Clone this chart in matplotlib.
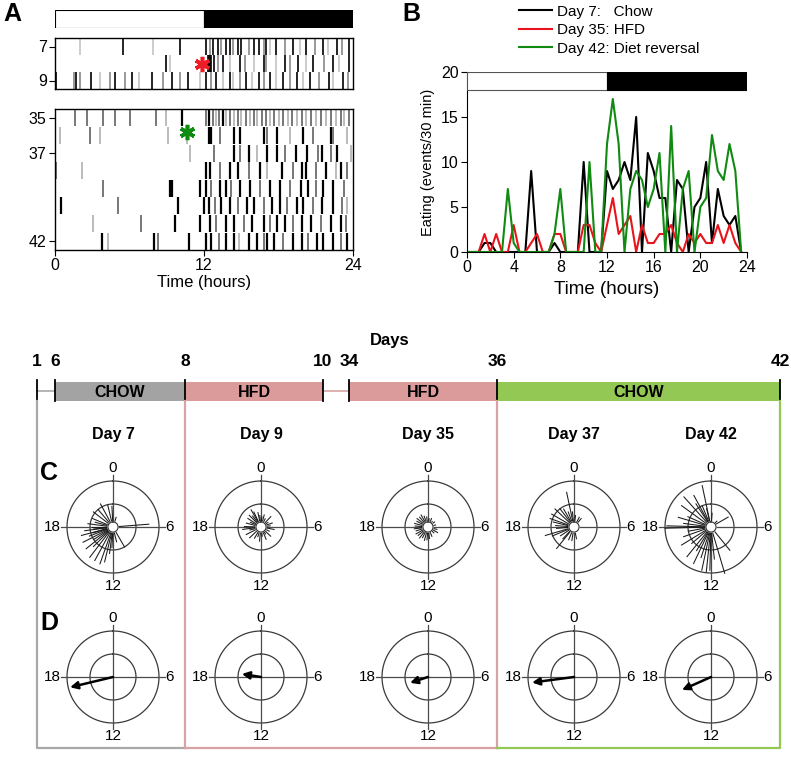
import numpy as np
import matplotlib
matplotlib.use("Agg")
import matplotlib.pyplot as plt

plt.rcParams['font.family'] = ['Liberation Sans', 'DejaVu Sans']
NARROW = ['Liberation Sans Narrow', 'Liberation Sans', 'DejaVu Sans']

# ---------------- data ----------------
# Panel A raster: (hour, shade) per day ; shade k=black g=grey l=light
day7 = [(2.0,'l'),(5.5,'k'),(7.9,'l'),(10.1,'k'),(12.2,'k'),(12.5,'g'),(12.7,'k'),(13.1,'k'),(13.4,'g'),(13.8,'k'),(14.1,'k'),(14.3,'g'),(14.7,'k'),(15.0,'k'),(15.6,'g'),(16.0,'k'),(16.4,'k'),(16.8,'g'),(17.0,'k'),(17.3,'l'),(17.8,'k'),(18.5,'g'),(19.2,'k'),(19.7,'l'),(20.2,'k'),(20.9,'g'),(21.6,'k'),(22.0,'l'),(22.7,'k'),(23.1,'g'),(23.7,'k')]
day8 = [(8.9,'k'),(9.3,'l'),(12.3,'k'),(12.4,'k'),(12.5,'k'),(12.6,'k'),(12.8,'k'),(13.1,'g'),(13.5,'k'),(14.1,'l'),(14.9,'k'),(15.3,'g'),(16.0,'l'),(16.8,'k'),(17.0,'g'),(17.8,'l'),(18.5,'k'),(18.9,'g'),(19.6,'k'),(20.2,'l'),(20.8,'k'),(21.7,'g'),(22.4,'k'),(22.9,'l'),(23.7,'k')]
day9 = [(0.1,'k'),(1.5,'g'),(1.7,'k'),(2.0,'g'),(2.9,'k'),(3.6,'l'),(4.4,'g'),(4.8,'k'),(5.6,'g'),(6.2,'k'),(6.8,'l'),(7.8,'k'),(8.7,'g'),(9.4,'k'),(10.1,'g'),(10.7,'k'),(11.7,'l'),(12.2,'k'),(12.6,'g'),(13.0,'k'),(13.5,'l'),(14.1,'k'),(14.3,'l'),(14.9,'g'),(15.4,'k'),(15.9,'l'),(16.4,'k'),(16.8,'g'),(17.3,'k'),(17.8,'l'),(18.4,'k'),(18.9,'g'),(19.5,'k'),(20.0,'l'),(20.5,'k'),(21.3,'g'),(22.1,'k'),(22.4,'l'),(23.2,'k'),(23.6,'g')]
day35 = [(1.6,'g'),(2.6,'g'),(3.9,'g'),(4.8,'g'),(6.0,'g'),(8.1,'g'),(8.9,'l'),(10.2,'k'),(12.2,'g'),(12.4,'k'),(12.7,'g'),(13.0,'l'),(13.2,'g'),(13.5,'k'),(13.8,'l'),(14.1,'g'),(14.4,'l'),(14.7,'g'),(15.0,'l'),(15.4,'g'),(15.7,'l'),(16.0,'g'),(16.3,'l'),(16.7,'g'),(17.0,'g'),(17.3,'l'),(17.6,'g'),(18.0,'l'),(18.4,'g'),(18.8,'l'),(19.1,'g'),(19.5,'l'),(19.9,'g'),(20.2,'l'),(20.6,'g'),(21.0,'l'),(21.4,'g'),(21.8,'l'),(22.2,'g'),(22.6,'l'),(23.0,'g'),(23.3,'l'),(23.7,'g')]
day36 = [(0.4,'l'),(2.8,'g'),(3.6,'l'),(9.1,'l'),(10.6,'l'),(12.4,'k'),(12.6,'k'),(13.3,'g'),(14.4,'k'),(14.9,'k'),(16.8,'k'),(17.1,'g'),(17.9,'k'),(18.9,'l'),(20.0,'k'),(20.8,'g'),(22.2,'k'),(22.4,'g'),(23.5,'l')]
day37 = [(10.9,'l'),(12.8,'g'),(14.4,'k'),(14.9,'g'),(15.6,'k'),(16.3,'l'),(17.1,'k'),(17.9,'k'),(18.5,'g'),(19.4,'k'),(20.3,'k'),(21.2,'g'),(21.5,'k'),(22.2,'g'),(22.7,'k'),(23.8,'l')]
day38 = [(0.1,'g'),(2.2,'l'),(12.2,'k'),(12.5,'k'),(13.3,'g'),(14.1,'k'),(14.7,'k'),(15.6,'g'),(16.5,'k'),(17.1,'l'),(18.3,'k'),(19.2,'g'),(19.9,'k'),(20.2,'k'),(21.0,'g'),(21.8,'k'),(22.6,'l'),(23.0,'k'),(23.5,'g')]
day39 = [(3.9,'g'),(9.3,'k'),(9.4,'k'),(11.7,'k'),(12.2,'k'),(12.6,'g'),(13.3,'k'),(13.8,'k'),(14.2,'g'),(14.9,'k'),(15.7,'k'),(16.5,'g'),(17.3,'k'),(18.1,'k'),(18.9,'g'),(19.8,'k'),(20.4,'k'),(21.0,'g'),(21.6,'k'),(22.4,'k'),(23.3,'g')]
day40 = [(0.5,'k'),(5.1,'g'),(9.9,'k'),(12.0,'k'),(12.4,'k'),(12.9,'g'),(13.4,'k'),(14.1,'k'),(14.7,'g'),(15.5,'k'),(16.0,'k'),(16.8,'g'),(17.5,'k'),(18.1,'k'),(18.7,'g'),(19.5,'k'),(20.0,'k'),(20.8,'g'),(21.5,'k'),(22.4,'k'),(23.1,'g'),(23.5,'l')]
day41 = [(3.1,'l'),(6.9,'g'),(9.7,'k'),(11.7,'k'),(12.5,'k'),(13.0,'g'),(13.8,'k'),(14.4,'k'),(15.2,'g'),(15.9,'k'),(16.8,'k'),(17.3,'g'),(17.9,'k'),(18.5,'k'),(19.2,'g'),(19.9,'k'),(20.6,'k'),(21.4,'g'),(22.2,'k'),(23.0,'k'),(23.4,'g')]
day42 = [(3.8,'k'),(4.3,'l'),(8.0,'k'),(8.3,'g'),(10.8,'k'),(12.2,'k'),(12.6,'k'),(13.2,'g'),(13.8,'k'),(14.4,'k'),(14.8,'l'),(15.6,'k'),(16.3,'k'),(16.8,'g'),(17.1,'k'),(17.6,'k'),(18.4,'g'),(19.2,'k'),(19.9,'k'),(20.4,'g'),(21.1,'k'),(21.6,'k'),(22.4,'k'),(23.0,'g'),(23.5,'k')]
raster_top = {7: day7, 8: day8, 9: day9}
raster_bottom = {35: day35, 36: day36, 37: day37, 38: day38, 39: day39, 40: day40, 41: day41, 42: day42}
light_start = [0, 12]
light_width = [12, 12]

# Panel B: eating events per 30-min bin
bins_b = np.arange(0, 24, 0.5)
eat_day7 = [0,0,0,1,1,0,0,0,0,0,0,9,0,0,0,1,0,0,0,0,10,0,0,0,9,7,8,10,8,15,0,11,9,6,6,0,8,7,0,5,6,10,1,7,4,3,4,0]
eat_day35 = [0,0,0,2,0,2,0,0,3,0,0,1,2,0,0,2,2,0,0,0,3,3,1,0,3,6,2,3,4,0,3,1,1,2,2,3,1,0,2,1,2,1,1,3,1,3,1,0]
eat_day42 = [0,0,0,0,0,0,0,7,1,0,0,0,0,0,0,2,7,0,0,0,0,10,0,0,12,17,12,0,7,9,8,5,7,11,0,14,0,7,9,0,5,6,13,9,8,12,9,0]
b_labels = ['Day 7:   Chow', 'Day 35: HFD', 'Day 42: Diet reversal']
b_colors = ['black', '#e8141c', '#118a11']

# Timeline
tl_days = ['1', '6', '8', '10', '34', '36', '42']
tl_segments = ['CHOW', 'HFD', 'HFD', 'CHOW']

# Panels C/D: rose lines (hour, length rel. to outer circle) and mean vectors
rose_titles = ['Day 7', 'Day 9', 'Day 35', 'Day 37', 'Day 42']
rose_day7 = [(5.7,0.78),(1.2,0.22),(20.5,0.54),(22.1,0.57),(23.1,0.49),(23.8,0.45),(21.3,0.50),(19.5,0.48),(18.5,0.55),(18.0,0.45),(17.6,0.42),(17.5,0.62),(17.0,0.71),(16.6,0.55),(16.2,0.73),(15.8,0.50),(15.4,0.75),(15.0,0.60),(14.5,0.83),(13.9,0.83),(13.3,0.85),(12.9,0.78),(12.5,0.58),(12.2,0.45),(11.1,0.33),(10.0,0.50),(19.0,0.40),(16.9,0.45)]
rose_day9 = [(22.0,0.43),(22.3,0.36),(23.2,0.32),(0.3,0.22),(1.0,0.27),(1.8,0.2),(2.9,0.31),(3.8,0.18),(4.7,0.26),(5.5,0.2),(6.7,0.29),(7.8,0.2),(8.9,0.29),(9.8,0.18),(10.5,0.29),(11.5,0.2),(12.4,0.31),(13.2,0.22),(14.0,0.28),(15.1,0.34),(16.2,0.36),(17.0,0.25),(17.5,0.40),(18.1,0.36),(19.0,0.33),(19.6,0.25),(20.2,0.34),(21.0,0.36),(21.5,0.30),(23.6,0.25)]
rose_day35 = [(23.5,0.22),(0.5,0.18),(1.5,0.2),(2.5,0.15),(3.5,0.18),(5.0,0.17),(7.0,0.2),(8.0,0.24),(9.0,0.18),(10.5,0.22),(11.5,0.25),(12.3,0.28),(13.0,0.3),(13.8,0.26),(14.5,0.3),(15.3,0.28),(16.0,0.3),(16.8,0.27),(17.5,0.3),(18.3,0.28),(19.0,0.3),(19.8,0.27),(20.5,0.3),(21.3,0.28),(22.0,0.3),(22.7,0.25)]
rose_day37 = [(23.2,0.77),(23.6,0.33),(0.5,0.25),(1.9,0.24),(2.7,0.24),(20.9,0.57),(20.0,0.56),(19.3,0.55),(18.9,0.46),(18.3,0.40),(17.7,0.38),(16.9,0.65),(16.5,0.51),(15.8,0.35),(14.6,0.60),(14.9,0.35),(13.5,0.30),(12.6,0.30),(11.2,0.26),(22.0,0.45),(21.5,0.50),(22.6,0.35)]
rose_day42 = [(23.2,0.92),(22.1,0.78),(21.2,0.88),(20.4,0.79),(19.1,0.74),(17.9,1.0),(18.1,0.96),(18.5,0.6),(19.6,0.55),(16.7,0.63),(15.9,0.75),(15.3,0.55),(14.6,0.83),(14.1,0.6),(13.7,0.88),(13.2,0.7),(12.8,0.96),(12.4,0.98),(12.1,0.94),(11.6,0.7),(10.9,1.05),(9.4,0.65),(4.0,0.43),(3.0,0.18),(23.1,0.41),(22.5,0.5),(0.3,0.3),(21.8,0.6),(17.3,0.5)]
roses = [rose_day7, rose_day9, rose_day35, rose_day37, rose_day42]
arrow_hour = [17.1, 18.6, 16.8, 17.5, 16.4]
arrow_len = [0.96, 0.42, 0.41, 0.92, 0.69]
clock_labels = ['0', '6', '12', '18']

# ---------------- layout ----------------
W, H = 791, 757
fig = plt.figure(figsize=(W / 100, H / 100), dpi=100)

def px_axes(x0, y0, x1, y1, **kw):
    return fig.add_axes([x0 / W, 1 - y1 / H, (x1 - x0) / W, (y1 - y0) / H], **kw)

# overlay for schematic / letters
ov = fig.add_axes([0, 0, 1, 1], zorder=0)
ov.set_xlim(0, W)
ov.set_ylim(H, 0)
ov.axis('off')

SHADE = {'k': 'black', 'g': '#7a7a7a', 'l': '#bdbdbd'}

# ---- Panel A ----
axbar = px_axes(55, 10, 353, 28)
axbar.barh(0, light_width, left=light_start, height=1, color=['white', 'black'],
           edgecolor='black', linewidth=0.8)
axbar.set_xlim(0, 24)
axbar.set_ylim(-0.5, 0.5)
axbar.axis('off')

def draw_raster(ax, rows, lwk):
    for day, ev in rows.items():
        for t, s in ev:
            ax.vlines(t, day - 0.48, day + 0.48, color=SHADE[s],
                      lw=lwk if s == 'k' else lwk * 0.9)
    ax.set_xlim(0, 24)
    for sp in ax.spines.values():
        sp.set_linewidth(1.0)
    ax.tick_params(axis='both', labelsize=11.5, length=4, width=0.8, pad=2)

ax1 = px_axes(55, 38, 353, 89)
draw_raster(ax1, raster_top, 1.2)
ax1.set_ylim(9.5, 6.5)
ax1.set_yticks([7, 9])
ax1.set_xticks([])
ax1.plot([11.8], [8.0], marker=(6, 2, 0), ms=11, mew=2.6, color='#ee1c25', clip_on=False)

ax2 = px_axes(55, 109, 353, 250)
draw_raster(ax2, raster_bottom, 1.6)
ax2.set_ylim(42.5, 34.5)
ax2.set_yticks([35, 37, 42])
ax2.set_xticks([0, 12, 24])
ax2.set_xlabel('Time (hours)', fontsize=12, labelpad=1)
ax2.plot([10.6], [35.8], marker=(6, 2, 0), ms=11, mew=2.6, color='#118a11', clip_on=False)

# ---- Panel B ----
axb = px_axes(467, 72, 747, 252)
lines = []
for vals, c, lab in zip([eat_day7, eat_day35, eat_day42], b_colors, b_labels):
    ln, = axb.plot(bins_b, vals, color=c, lw=1.5, label=lab)
    lines.append(ln)
axb.barh(19, light_width, left=light_start, height=2, color=['white', 'black'],
         edgecolor=['#555555', 'black'], linewidth=0.8, zorder=3)
axb.set_xlim(0, 24)
axb.set_ylim(0, 20)
axb.set_xticks(range(0, 25, 4))
axb.set_yticks(range(0, 21, 5))
axb.spines['top'].set_visible(False)
axb.spines['right'].set_visible(False)
axb.tick_params(axis='both', labelsize=11.5, length=4, width=0.8, pad=2)
axb.set_xlabel('Time (hours)', fontsize=13.5, labelpad=4)
axb.set_ylabel('Eating (events/30 min)', fontsize=10.5, labelpad=4)
fig.legend(handles=lines, loc='upper left', bbox_to_anchor=(517 / W, 1 - 3 / H),
           frameon=False, fontsize=11, handlelength=2.2, handletextpad=0.35,
           labelspacing=0.3, borderpad=0.1, borderaxespad=0)

# panel letters
for lab, x, y in [('A', 12, 14), ('B', 411, 14), ('C', 49, 473), ('D', 49, 623)]:
    ov.text(x, y, lab, fontsize=18, fontweight='bold', ha='center', va='center')

# ---- Timeline schematic ----
tx = [37, 55, 185, 323, 349, 497, 780]
seg_x = [(55, 185), (185, 323), (349, 497), (497, 780)]
seg_fc = ['#a3a3a3', '#db9b9b', '#db9b9b', '#94c854']
box_col = ['#a8a8a8', '#d9a3a3', '#d9a3a3', '#94c854']
bar_top, bar_bot, box_bot = 382, 401, 748
ov.text(390, 340, 'Days', fontsize=12, fontweight='bold', ha='center', va='center', family=NARROW)
for d, x in zip(tl_days, tx):
    ov.text(x, 362, d, fontsize=12.5, fontweight='bold', ha='center', va='center', family=NARROW)
for (x0, x1), fc, lab in zip(seg_x, seg_fc, tl_segments):
    ov.fill_between([x0, x1], bar_top, bar_bot, color=fc, lw=0)
    ov.text((x0 + x1) / 2, (bar_top + bar_bot) / 2 + 1, lab, fontsize=11.5, fontweight='bold',
            ha='center', va='center', family=NARROW)
ov.plot([37, 55], [391, 391], color='#a8a8a8', lw=1.2)
ov.plot([323, 349], [391, 391], color='#d9a3a3', lw=1.2)
for x in tx:
    ov.plot([x, x], [bar_top - 2, bar_bot], color='black', lw=1.3)
# boxes below
ov.plot([37, 37, 185], [bar_bot, box_bot, box_bot], color=box_col[0], lw=1.6)
ov.plot([185, 185], [bar_bot, box_bot], color=box_col[1], lw=1.6)
ov.plot([185, 497], [box_bot, box_bot], color=box_col[1], lw=1.6)
ov.plot([497, 497], [bar_bot, box_bot], color=box_col[1], lw=1.6)
ov.plot([497, 780, 780], [box_bot, box_bot, bar_bot], color=box_col[3], lw=1.6)

# ---- Panels C / D ----
centers_x = [113, 261, 428, 574, 711]
row_y = [527, 677]
R_PX = 46
HALF = 62
RMAX = HALF / R_PX
theta_circle = np.linspace(0, 2 * np.pi, 361)

def h2t(h):
    return np.asarray(h) / 24.0 * 2 * np.pi

def clock_axes(cx, cy):
    ax = px_axes(cx - HALF, cy - HALF, cx + HALF, cy + HALF, projection='polar')
    ax.set_theta_zero_location('N')
    ax.set_theta_direction(-1)
    ax.set_ylim(0, RMAX)
    ax.set_axis_off()
    for r in (1.0, 0.5):
        ax.plot(theta_circle, np.full_like(theta_circle, r), color='#3a3a3a', lw=0.9)
    for h in (0, 6, 12, 18):
        ax.plot([h2t(h), h2t(h)], [0, 1.12], color='#4a4a4a', lw=0.9)
    offs = {'0': dict(ha='center', va='bottom'), '6': dict(ha='left', va='center'),
            '12': dict(ha='center', va='top'), '18': dict(ha='right', va='center')}
    for lab in clock_labels:
        ax.text(h2t(float(lab)), 1.14, lab, fontsize=11, clip_on=False, **offs[lab])
    return ax

for i, cx in enumerate(centers_x):
    ov.text(cx, 435, rose_titles[i], fontsize=11.5, fontweight='bold', ha='center', va='center')
    axc = clock_axes(cx, row_y[0])
    for h, L in roses[i]:
        axc.plot([h2t(h), h2t(h)], [0, L], color='#1a1a1a', lw=0.75)
    axc.plot(theta_circle, np.full_like(theta_circle, 0.11), color='#333333', lw=0.8, zorder=4)
    axc.fill(theta_circle, np.full_like(theta_circle, 0.11), color='white', zorder=3.5)
    axd = clock_axes(cx, row_y[1])
    axd.annotate('', xy=(h2t(arrow_hour[i]), arrow_len[i]), xytext=(0, 0),
                 arrowprops=dict(arrowstyle='-|>', color='black', lw=1.8,
                                 mutation_scale=11, shrinkA=0, shrinkB=0))

fig.savefig('out.png', dpi=100)
